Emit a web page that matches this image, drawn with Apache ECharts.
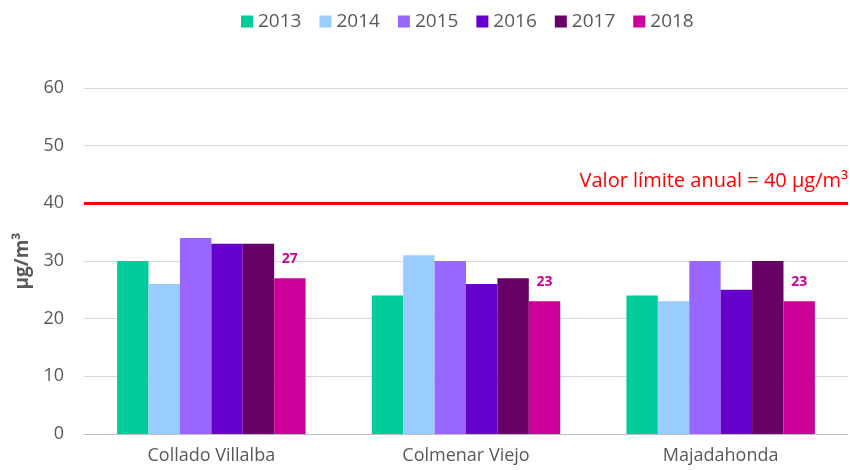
<!DOCTYPE html>
<html>
<head>
<meta charset="utf-8">
<title></title>
<script src="https://cdn.jsdelivr.net/npm/echarts@6/dist/echarts.min.js"></script>
<style>
  html, body { margin: 0; padding: 0; background: #fff; }
  #main { width: 850px; height: 470px; }
</style>
</head>
<body>
<div id="main"></div>
<script type="text/javascript">
// estaciones
var estaciones = ['Collado Villalba', 'Colmenar Viejo', 'Majadahonda'];
var anios = ['2013', '2014', '2015', '2016', '2017', '2018'];
// medias anuales por año (µg/m3)
var v2013 = [30, 24, 24];
var v2014 = [26, 31, 23];
var v2015 = [34, 30, 30];
var v2016 = [33, 26, 25];
var v2017 = [33, 27, 30];
var v2018 = [27, 23, 23];
var valorLimite = 40;
var yTicks = [0, 10, 20, 30, 40, 50, 60];

var colores = ['#00CC99', '#99CCFF', '#9966FF', '#6600CC', '#660066', '#CC0099'];
var datos = [v2013, v2014, v2015, v2016, v2017, v2018];
var fuente = '"Open Sans", "Liberation Sans", sans-serif';

var series = [];
for (var i = 0; i < anios.length; i++) {
  var s = {
    name: anios[i],
    type: 'bar',
    data: datos[i],
    barGap: '0%',
    barCategoryGap: '26%',
    itemStyle: { color: colores[i] }
  };
  if (i === anios.length - 1) {
    // solo el último año lleva etiqueta
    s.label = {
      show: true,
      position: 'top',
      distance: 12,
      color: '#CC0099',
      fontWeight: 'bold',
      fontSize: 14,
      fontFamily: fuente
    };
    s.markLine = {
      silent: true,
      symbol: ['none', 'none'],
      data: [{ yAxis: valorLimite }],
      lineStyle: { color: '#FF0000', width: 3, type: 'solid' },
      label: {
        show: true,
        position: 'insideEndTop',
        formatter: 'Valor límite anual = 40 µg/m³',
        color: '#FF0000',
        fontSize: 20,
        fontFamily: fuente,
        distance: [0, 12]
      }
    };
  }
  series.push(s);
}

var chart = echarts.init(document.getElementById('main'));
chart.setOption({
  animation: false,
  textStyle: { fontFamily: fuente },
  legend: {
    top: 7,
    left: 236,
    itemWidth: 12,
    itemHeight: 12,
    itemGap: 18,
    icon: 'rect',
    textStyle: { fontSize: 19, color: '#595959', fontFamily: fuente },
    data: anios
  },
  grid: { left: 84, right: 2, top: 88, bottom: 36 },
  xAxis: {
    type: 'category',
    data: estaciones,
    axisTick: { show: false },
    axisLine: { lineStyle: { color: '#BFBFBF' } },
    axisLabel: { fontSize: 18, color: '#595959', margin: 13, fontFamily: fuente }
  },
  yAxis: {
    type: 'value',
    min: yTicks[0],
    max: yTicks[yTicks.length - 1],
    interval: 10,
    name: 'µg/m³',
    nameLocation: 'middle',
    nameGap: 52,
    nameTextStyle: { fontSize: 19, fontWeight: 'bold', color: '#595959', fontFamily: fuente },
    axisLabel: { fontSize: 18, color: '#595959', margin: 20, fontFamily: fuente },
    splitLine: { lineStyle: { color: '#D9D9D9' } },
    axisLine: { show: false },
    axisTick: { show: false }
  },
  series: series
});
</script>
</body>
</html>
